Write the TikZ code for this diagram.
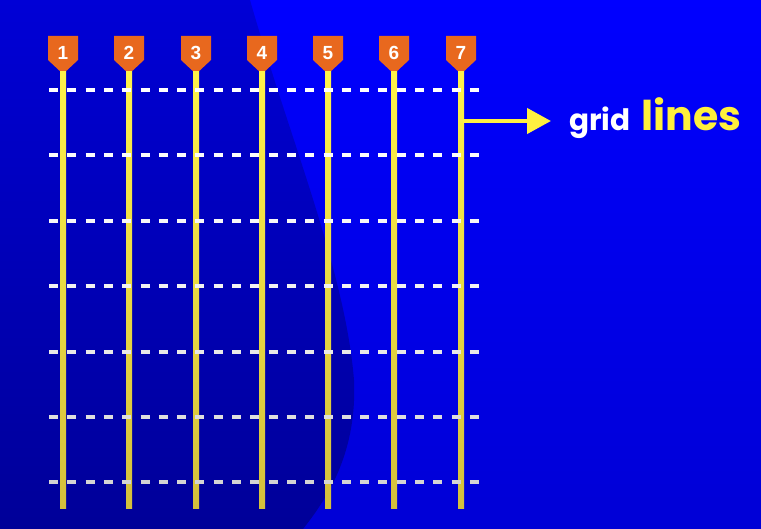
\documentclass[tikz,border=0pt]{standalone}
\usepackage{fontspec}
\setmainfont{Liberation Sans}
\newfontfamily\popfont{Poppins}
\usetikzlibrary{arrows.meta}
\definecolor{bgtop}{HTML}{0000FF}
\definecolor{bgbot}{HTML}{0000D6}
\definecolor{dktop}{HTML}{0000D6}
\definecolor{dkbot}{HTML}{000098}
\definecolor{tagorange}{HTML}{E8681E}
\definecolor{ytop}{HTML}{FFF24A}
\definecolor{ybot}{HTML}{D4C03C}
\definecolor{arrowyellow}{HTML}{FFF040}
\definecolor{labelyellow}{HTML}{FFF03C}
\tikzset{
  tagnum/.style={text=white,font=\bfseries\fontsize{19}{19}\selectfont,inner sep=0pt},
  tagshape/.style={fill=tagorange},
  gridline/.style={line width=4pt,dash pattern=on 9pt off 9.3pt},
  pointer/.style={draw=arrowyellow,line width=4.5pt,-{Triangle[length=24pt,width=25pt]}},
}
\begin{document}
\begin{tikzpicture}[x=1pt,y=-1pt]
\useasboundingbox (0,0) rectangle (761,529);
% background
\shade[top color=bgtop,bottom color=bgbot] (0,0) rectangle (761,529);
\shade[top color=dktop,bottom color=dkbot] (0,0) -- (250,0)
  .. controls (290,140) and (345,270) .. (354,380)
  .. controls (357,450) and (330,495) .. (303,529) -- (0,529) -- cycle;
% tags and vertical lines
\foreach \i/\x in {1/63,2/129,3/196,4/262,5/328,6/394,7/461}{
  \fill[tagshape] (\x-15,36) -- (\x+15,36) -- (\x+15,60) -- (\x,74) -- (\x-15,60) -- cycle;
  \node[tagnum] (t\i) at (\x,53) {\i};
  \coordinate (top\i) at (\x,72);
  \coordinate (bot\i) at (\x,508);
  \shade[top color=ytop,bottom color=ybot] ([xshift=-3pt]top\i) rectangle ([xshift=3pt]bot\i);
}
% dashed grid rows
\foreach \j/\y/\c in {1/90.3/100,2/155.5/99,3/220.8/97,4/286.5/95,5/351.8/91,6/417/87,7/482.3/83}{
  \coordinate (l\j) at (49,\y);
  \coordinate (r\j) at (484,\y);
  \draw[gridline,white!\c!black] (l\j) -- (r\j);
}
% arrow and label
\coordinate (a0) at (463,121);
\coordinate (a1) at (551,121);
\draw[pointer] (a0) -- (a1);
\node[anchor=base west,inner sep=0pt] (lbl) at (569,130.5)
  {\popfont\bfseries{\color{white}\fontsize{29.5}{29.5}\selectfont grid}\hspace{11pt}{\color{labelyellow}\fontsize{41}{41}\selectfont lines}};
\end{tikzpicture}
\end{document}
